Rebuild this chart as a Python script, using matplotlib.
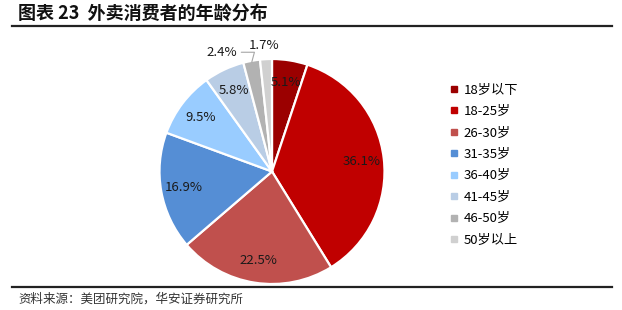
import numpy as np
import matplotlib
matplotlib.use("Agg")
import matplotlib.pyplot as plt
from matplotlib.lines import Line2D

plt.rcParams['font.family'] = ['Noto Sans CJK SC', 'DejaVu Sans']

# data
groups = ['18岁以下', '18-25岁', '26-30岁', '31-35岁', '36-40岁', '41-45岁', '46-50岁', '50岁以上']
shares = [5.1, 36.1, 22.5, 16.9, 9.5, 5.8, 2.4, 1.7]
colors = ['#9B0000', '#C00000', '#C0504D', '#558ED5', '#99CCFF', '#B9CDE5', '#B2B2B2', '#D0D0D0']

W, H = 622, 310
fig = plt.figure(figsize=(W / 100, H / 100), dpi=100)

# pie axes: center (272,171.5) px, radius 112.5 px
cx, cy, R = 272, 171.5, 112.5
ax = fig.add_axes([(cx - R) / W, (H - cy - R) / H, 2 * R / W, 2 * R / H])
wedges, _ = ax.pie(shares, colors=colors, startangle=90, counterclock=False,
                   wedgeprops=dict(edgecolor='white', linewidth=1.6), frame=False)
ax.set_xlim(-1, 1)
ax.set_ylim(-1, 1)
ax.set_aspect('equal')
ax.axis('off')

# percentage labels
for i, (w, v) in enumerate(zip(wedges, shares)):
    mid = np.deg2rad((w.theta1 + w.theta2) / 2)
    txt = f'{v:.1f}%'
    if v >= 5:
        d = 0.8
        ax.text(d * np.cos(mid), d * np.sin(mid), txt, ha='center', va='center',
                fontsize=9.5, color='#1a1a1a')
    elif i == 6:
        ex, ey = np.cos(mid), np.sin(mid)
        ax.annotate(txt, xy=(0.99 * ex, 0.99 * ey), xytext=(-0.31, 1.06),
                    ha='right', va='center', fontsize=9.5, color='#1a1a1a',
                    arrowprops=dict(arrowstyle='-', color='#A6A6A6', lw=0.8,
                                    shrinkA=1, shrinkB=0,
                                    connectionstyle='angle,angleA=0,angleB=75,rad=0'))
    else:
        ax.text(-0.07, 1.12, txt, ha='center', va='center', fontsize=9.5, color='#1a1a1a')

# legend
handles = [Line2D([], [], marker='s', linestyle='none', markersize=4.5,
                  markerfacecolor=c, markeredgecolor=c) for c in colors]
fig.legend(handles, groups, loc='upper left', bbox_to_anchor=(443 / W, 1 - 77 / H),
           frameon=False, fontsize=9.5, handlelength=0.6, handletextpad=0.45,
           labelspacing=0.64, borderpad=0)

# title, rules and source
fig.text(18 / W, 1 - 13 / H, '图表 23  外卖消费者的年龄分布', fontsize=13, fontweight='bold',
         ha='left', va='center', color='#111111')
fig.add_artist(Line2D([12 / W, 612 / W], [1 - 26 / H, 1 - 26 / H], color='#222222', lw=1.6))
fig.add_artist(Line2D([12 / W, 612 / W], [1 - 287 / H, 1 - 287 / H], color='#222222', lw=1.6))
fig.text(18 / W, 1 - 299 / H, '资料来源：美团研究院，华安证券研究所', fontsize=9,
         ha='left', va='center', color='#333333')

fig.savefig('out.png', dpi=100)
